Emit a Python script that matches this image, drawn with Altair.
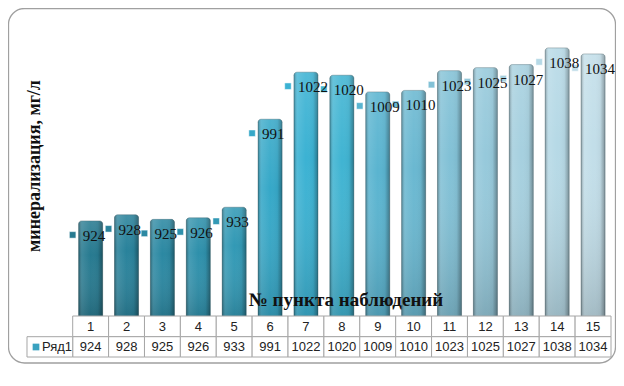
import altair as alt
import pandas as pd

# ---- data ----
points = list(range(1, 16))
values = [924, 928, 925, 926, 933, 991, 1022, 1020, 1009, 1010, 1023, 1025, 1027, 1038, 1034]
series_name = "Ряд1"
x_title = "№  пункта наблюдений"
y_title = "минерализация, мг/л"

bar_colors = ["#277a90", "#29829b", "#2b88a2", "#2e90ab", "#3299b5",
              "#36a8c8", "#3bb2d3", "#40b4d2", "#5ab4d0", "#6ab8d1",
              "#82c1d6", "#96c9db", "#a6d0df", "#b6d9e6", "#c2dee9"]

df = pd.DataFrame({"n": points, "v": values})
one = pd.DataFrame({"k": [0]})

SERIF = "Liberation Serif"
SANS = "Liberation Sans"
BASE_VALUE = 860

xbar = alt.Scale(domain=points, range=[64.7, 603], paddingInner=0.33, paddingOuter=0.165)
xtab = alt.Scale(domain=points, range=[64.7, 603], paddingInner=0, paddingOuter=0)
yscale = alt.Scale(domain=[860, 1050], range=[310, 21.7], zero=False, nice=False)
cscale = alt.Scale(domain=points, range=bar_colors)

base = alt.Chart(df)
X = alt.X("n:O", scale=xbar, axis=None)
Y = alt.Y("v:Q", scale=yscale, axis=None)
Y2 = alt.Y2(datum=BASE_VALUE)

border = alt.Chart(one).mark_rect(
    cornerRadius=16, fill="white", stroke="#a0a0a0", strokeWidth=1.3
).encode(x=alt.value(0.5), x2=alt.value(607.5), y=alt.value(0.5), y2=alt.value(355))

bars = base.mark_bar(
    cornerRadiusTopLeft=3, cornerRadiusTopRight=3,
    stroke="#2c4a54", strokeOpacity=0.5, strokeWidth=0.7
).encode(x=X, y=Y, y2=Y2, color=alt.Color("n:O", scale=cscale, legend=None))

shade_h = base.mark_bar(
    cornerRadiusTopLeft=3, cornerRadiusTopRight=3,
    fill=alt.LinearGradient(
        gradient="linear", x1=0, y1=0, x2=1, y2=0,
        stops=[
            alt.GradientStop(color="rgba(0,0,0,0.32)", offset=0),
            alt.GradientStop(color="rgba(255,255,255,0.10)", offset=0.15),
            alt.GradientStop(color="rgba(255,255,255,0.0)", offset=0.5),
            alt.GradientStop(color="rgba(0,0,0,0.04)", offset=0.8),
            alt.GradientStop(color="rgba(0,0,0,0.34)", offset=1),
        ],
    ),
).encode(x=X, y=Y, y2=Y2)

shade_v = base.mark_bar(
    cornerRadiusTopLeft=3, cornerRadiusTopRight=3,
    fill=alt.LinearGradient(
        gradient="linear", x1=0, y1=0, x2=0, y2=1,
        stops=[
            alt.GradientStop(color="rgba(255,255,255,0.12)", offset=0),
            alt.GradientStop(color="rgba(255,255,255,0.0)", offset=0.35),
            alt.GradientStop(color="rgba(0,0,0,0.16)", offset=1),
        ],
    ),
).encode(x=X, y=Y, y2=Y2)

markers = base.mark_square(
    size=42, xOffset=-18, yOffset=14, opacity=1, stroke="#ffffff", strokeWidth=0.8, strokeOpacity=0.6
).encode(x=X, y=Y, color=alt.Color("n:O", scale=cscale, legend=None))

labels = base.mark_text(
    align="left", baseline="middle", dx=-8, dy=15, font=SERIF, fontSize=15, color="#111111"
).encode(x=X, y=Y, text=alt.Text("v:Q"))

# ---- data table under the chart ----
TX = alt.X("n:O", scale=xtab, axis=None)
head_cells = base.mark_rect(fill="white", stroke="#a6a6a6", strokeWidth=1).encode(
    x=TX, y=alt.value(308), y2=alt.value(328.7))
val_cells = base.mark_rect(fill="white", stroke="#a6a6a6", strokeWidth=1).encode(
    x=TX, y=alt.value(328.7), y2=alt.value(349))
head_txt = base.mark_text(font=SANS, fontSize=13, color="#222222", baseline="middle").encode(
    x=TX, y=alt.value(318.5), text="n:O")
val_txt = base.mark_text(font=SANS, fontSize=13, color="#222222", baseline="middle").encode(
    x=TX, y=alt.value(339), text="v:Q")

name_df = pd.DataFrame({"s": [series_name]})
name_cell = alt.Chart(name_df).mark_rect(fill="white", stroke="#a6a6a6", strokeWidth=1).encode(
    x=alt.value(19), x2=alt.value(64.7), y=alt.value(328.7), y2=alt.value(349))
name_key = alt.Chart(name_df).mark_square(size=45, color="#3aa2c0", opacity=1).encode(
    x=alt.value(28), y=alt.value(339))
name_txt = alt.Chart(name_df).mark_text(font=SANS, fontSize=13, color="#222222",
                                        align="left", baseline="middle").encode(
    x=alt.value(34), y=alt.value(339), text="s:N")

# ---- titles ----
tdf = pd.DataFrame({"xt": [x_title], "yt": [y_title]})
xt = alt.Chart(tdf).mark_text(font=SERIF, fontSize=19, fontWeight="bold", color="#111111",
                              baseline="middle").encode(
    x=alt.value(338), y=alt.value(292), text="xt:N")
yt = alt.Chart(tdf).mark_text(font=SERIF, fontSize=18, fontWeight="bold", color="#111111",
                              angle=270, baseline="middle").encode(
    x=alt.value(27), y=alt.value(158), text="yt:N")

chart = alt.layer(
    border, bars, shade_h, shade_v, head_cells, val_cells, name_cell,
    markers, labels, head_txt, val_txt, name_key, name_txt, xt, yt
).resolve_scale(x="independent", color="independent").properties(
    width=608, height=360, autosize=alt.AutoSizeParams(type="none"), padding=0,
    background="white"
).configure_view(stroke=None)

chart.save("out.html", embed_options={"renderer": "svg", "actions": False})
